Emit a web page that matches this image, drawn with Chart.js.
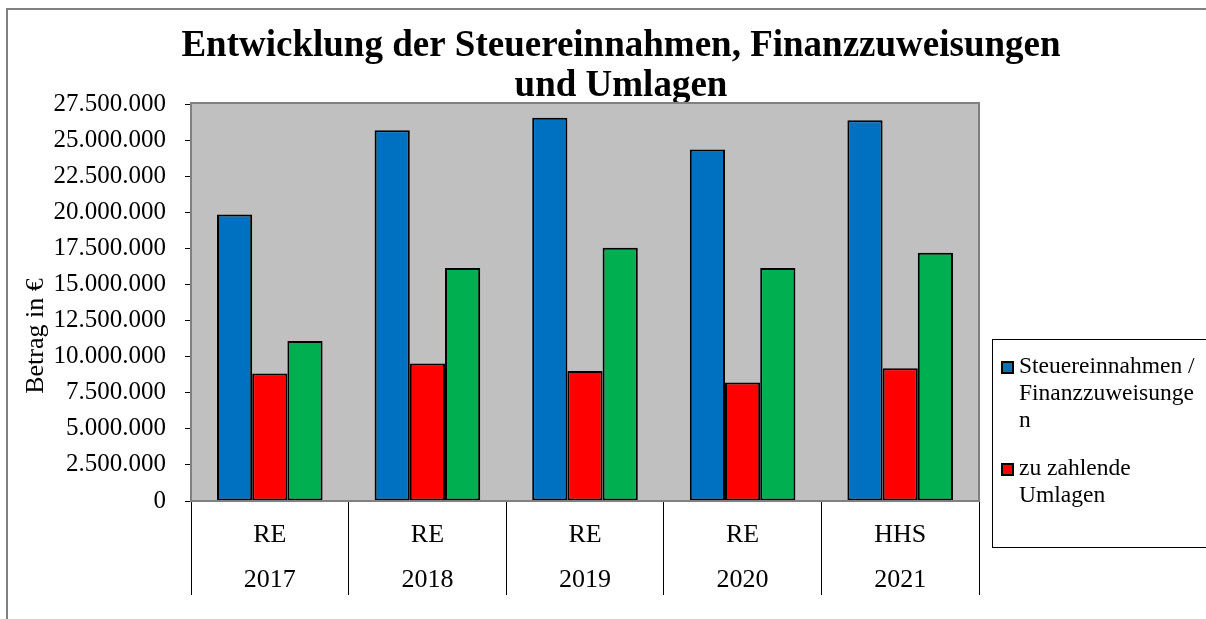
<!DOCTYPE html>
<html>
<head>
<meta charset="utf-8">
<script src="https://cdn.jsdelivr.net/npm/chart.js@4/dist/chart.umd.min.js"></script>
<style>
  html, body { margin: 0; padding: 0; background: #fff; }
  canvas { display: block; }
</style>
</head>
<body>
<canvas id="chart" width="1206" height="619"></canvas>
<script>
// data
const categories = [['RE', '2017'], ['RE', '2018'], ['RE', '2019'], ['RE', '2020'], ['HHS', '2021']];
const seriesNames = ['Steuereinnahmen / Finanzzuweisungen', 'zu zahlende Umlagen', 'verbleibender Betrag'];
const steuereinnahmen = [19850000, 25690000, 26550000, 24350000, 26380000];
const umlagen = [8840000, 9530000, 9000000, 8200000, 9190000];
const verbleibend = [11080000, 16140000, 17540000, 16140000, 17200000];
const yMin = 0, yMax = 27500000, yStep = 2500000;

const colors = ['#0070C0', '#FF0000', '#00B050'];
const serif = "'Liberation Serif', 'Times New Roman', serif";
const legendCount = 2; // only the first two entries fit in the legend box

function fmt(v) {
    return String(Math.round(v)).replace(/\B(?=(\d{3})+(?!\d))/g, '.');
}

// frame, plot background, y title and legend
const decor = {
    id: 'decor',
    beforeDraw(chart) {
        const ctx = chart.ctx, a = chart.chartArea;
        ctx.save();
        ctx.strokeStyle = '#808080';
        ctx.lineWidth = 2;
        ctx.strokeRect(7, 9, 1300, 700);
        ctx.fillStyle = '#C0C0C0';
        ctx.fillRect(a.left, a.top, a.right - a.left, a.bottom - a.top);
        ctx.restore();
    },
    afterDatasetsDraw(chart) {
        const ctx = chart.ctx, a = chart.chartArea;
        ctx.save();
        ctx.strokeStyle = '#808080';
        ctx.lineWidth = 2;
        ctx.strokeRect(a.left, a.top - 1, a.right - a.left, a.bottom - a.top + 1);
        ctx.restore();
    },
    afterDraw(chart) {
        const ctx = chart.ctx;
        ctx.save();
        // y axis title
        ctx.translate(36, 336);
        ctx.rotate(-Math.PI / 2);
        ctx.fillStyle = '#000';
        ctx.font = '26px ' + serif;
        ctx.textAlign = 'center';
        ctx.textBaseline = 'middle';
        ctx.fillText('Betrag in €', 0, 0);
        ctx.restore();

        // legend box
        const bx = 992, by = 339, bw = 220, bh = 208;
        ctx.save();
        ctx.fillStyle = '#fff';
        ctx.fillRect(bx, by, bw, bh);
        ctx.strokeStyle = '#000';
        ctx.lineWidth = 1;
        ctx.strokeRect(bx + 0.5, by + 0.5, bw, bh);
        ctx.font = '23.5px ' + serif;
        ctx.textBaseline = 'middle';
        const maxW = 180;
        let y = 367;
        chart.data.datasets.slice(0, legendCount).forEach(ds => {
            ctx.fillStyle = ds.backgroundColor;
            ctx.fillRect(1002, y - 5, 11, 11);
            ctx.strokeStyle = '#000';
            ctx.lineWidth = 2;
            ctx.strokeRect(1002, y - 5, 11, 11);
            ctx.fillStyle = '#000';
            wrap(ctx, ds.label, maxW).forEach(line => {
                ctx.fillText(line, 1019, y);
                y += 27;
            });
            y += 21;
        });
        ctx.restore();
    }
};

function wrap(ctx, text, maxW) {
    const lines = [];
    let cur = '';
    text.split(' ').forEach(word => {
        const test = cur ? cur + ' ' + word : word;
        if (ctx.measureText(test).width <= maxW) { cur = test; return; }
        if (cur) lines.push(cur);
        cur = '';
        for (const ch of word) {
            if (ctx.measureText(cur + ch).width > maxW) { lines.push(cur); cur = ch; }
            else cur += ch;
        }
    });
    if (cur) lines.push(cur);
    return lines;
}

const seriesData = [steuereinnahmen, umlagen, verbleibend];

new Chart(document.getElementById('chart'), {
    type: 'bar',
    data: {
        labels: categories,
        datasets: seriesData.map((d, i) => ({
            label: seriesNames[i],
            data: d,
            backgroundColor: colors[i],
            borderColor: '#000',
            borderWidth: 2,
            borderSkipped: false,
            barPercentage: 1,
            categoryPercentage: 0.67
        }))
    },
    options: {
        responsive: false,
        animation: false,
        layout: { padding: { left: 36, right: 0, top: 0, bottom: 0 } },
        plugins: {
            legend: { display: false },
            tooltip: { enabled: false },
            title: {
                display: true,
                text: ['Entwicklung der Steuereinnahmen, Finanzzuweisungen', 'und Umlagen'],
                color: '#000',
                font: { family: serif, size: 37, weight: 'bold', lineHeight: 40 / 37 },
                padding: { top: 26, bottom: -2 }
            }
        },
        scales: {
            x: {
                grid: { drawOnChartArea: false, tickLength: 94, color: '#000', lineWidth: 1 },
                border: { display: true, color: '#000' },
                ticks: { color: '#000', padding: -82.5, font: { family: serif, size: 26, lineHeight: 45 / 26 }, maxRotation: 0 },
                afterFit: s => { s.height = 118; }
            },
            y: {
                min: yMin,
                max: yMax,
                grid: { drawOnChartArea: false, tickLength: 6, color: '#000' },
                border: { display: true, color: '#000' },
                ticks: { stepSize: yStep, color: '#000', padding: 19, font: { family: serif, size: 25 }, callback: v => fmt(v) },
                afterFit: s => { s.width = 155; }
            },
            spacer: {
                type: 'linear',
                position: 'right',
                display: true,
                grid: { display: false },
                border: { display: false },
                ticks: { display: false },
                afterFit: s => { s.width = 227; }
            }
        }
    },
    plugins: [decor]
});
</script>
</body>
</html>
